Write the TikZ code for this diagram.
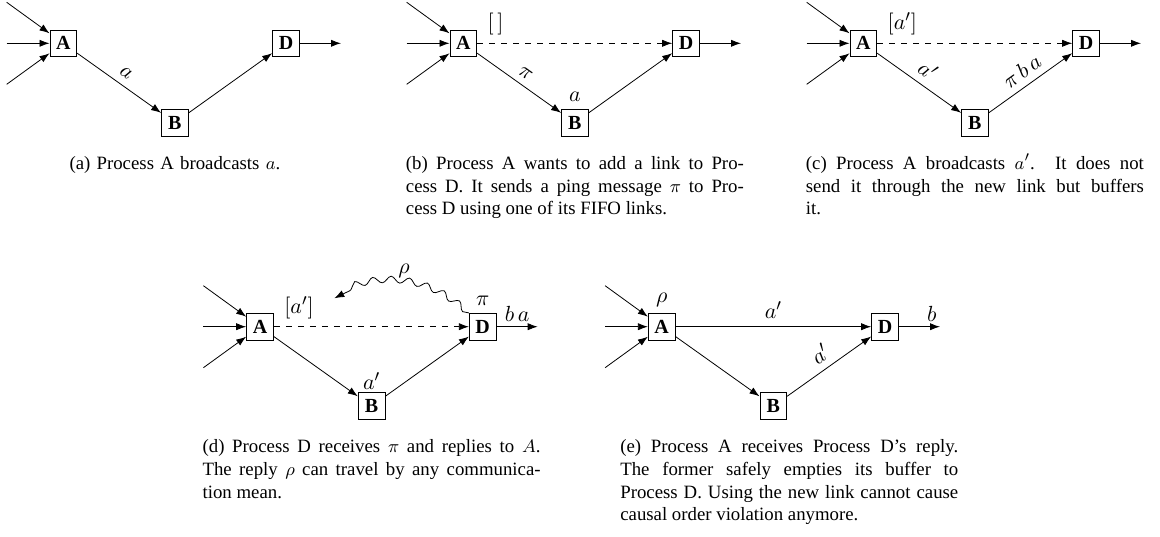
\documentclass[tikz,border=0pt]{standalone}
\usepackage{fontspec}
\setmainfont{Liberation Serif}
\usetikzlibrary{positioning,arrows.meta,decorations.pathmorphing}

\tikzset{
    proc/.style={draw, minimum size=13.4pt, inner sep=0pt, font=\fontsize{10}{12}\selectfont\bfseries},
    lbl/.style={inner sep=1pt, font=\fontsize{11}{13}\selectfont},
    msg/.style={-{Latex[length=5pt,width=3.6pt]}},
    newlink/.style={msg, dashed},
    reply/.style={msg, decorate, decoration={snake, amplitude=1.6pt, segment length=9pt, post length=4pt}},
    subcap/.style={text width=169pt, align=justify, inner sep=0pt,
        font=\fontsize{9.4}{11.3}\selectfont, execute at begin node=\strut},
}

\begin{document}
\begin{tikzpicture}[x=0.5pt, y=-0.5pt, on grid]
    \useasboundingbox (0,0) rectangle (1160,536);

    % (a) broadcast of a
    \node[proc] (A1) at (63.3,43.3) {A};
    \node[proc, below right=39.7pt and 55.8pt of A1] (B1) {B};
    \node[proc, right=111.35pt of A1] (D1) {D};
    \coordinate[above left=20.5pt and 28.3pt of A1] (in1a);
    \coordinate[left=28.3pt of A1] (in1b);
    \coordinate[below left=20.5pt and 28.3pt of A1] (in1c);
    \coordinate[right=27.5pt of D1] (out1);
    \draw[msg] (in1a) -- (A1);
    \draw[msg] (in1b) -- (A1);
    \draw[msg] (in1c) -- (A1);
    \draw[msg] (A1) -- node[lbl, sloped, above=2.5pt] (msgab1) {$a$} (B1);
    \draw[msg] (B1) -- (D1);
    \draw[msg] (D1) -- (out1);
    \node[subcap, align=center, below=15.3pt of B1, anchor=north] (cap1) {(a) Process A broadcasts $a$.};

    % (b) ping over FIFO links
    \node[proc] (A2) at (463.3,43.3) {A};
    \node[proc, below right=39.7pt and 55.8pt of A2] (B2) {B};
    \node[proc, right=111.35pt of A2] (D2) {D};
    \coordinate[above left=20.5pt and 28.3pt of A2] (in2a);
    \coordinate[left=28.3pt of A2] (in2b);
    \coordinate[below left=20.5pt and 28.3pt of A2] (in2c);
    \coordinate[right=27.5pt of D2] (out2);
    \node[lbl, above right=9.65pt and 11pt of A2, anchor=west] (buf2) {$[\,]$};
    \node[lbl, above=12.75pt of B2] (queue2) {$a$};
    \draw[msg] (in2a) -- (A2);
    \draw[msg] (in2b) -- (A2);
    \draw[msg] (in2c) -- (A2);
    \draw[newlink] (A2) -- (D2);
    \draw[msg] (A2) -- node[lbl, sloped, above=2pt] (msgab2) {$\pi$} (B2);
    \draw[msg] (B2) -- (D2);
    \draw[msg] (D2) -- (out2);
    \node[subcap, below=15.3pt of B2, anchor=north] (cap2) {(b) Process A wants to add a link to Pro-\linebreak
        cess D. It sends a ping message $\pi$ to Pro-\linebreak
        cess D using one of its FIFO links.};

    % (c) a' is buffered
    \node[proc] (A3) at (863.3,43.3) {A};
    \node[proc, below right=39.7pt and 55.8pt of A3] (B3) {B};
    \node[proc, right=111.35pt of A3] (D3) {D};
    \coordinate[above left=20.5pt and 28.3pt of A3] (in3a);
    \coordinate[left=28.3pt of A3] (in3b);
    \coordinate[below left=20.5pt and 28.3pt of A3] (in3c);
    \coordinate[right=27.5pt of D3] (out3);
    \node[lbl, above right=9.65pt and 11pt of A3, anchor=west] (buf3) {$[a']$};
    \draw[msg] (in3a) -- (A3);
    \draw[msg] (in3b) -- (A3);
    \draw[msg] (in3c) -- (A3);
    \draw[newlink] (A3) -- (D3);
    \draw[msg] (A3) -- node[lbl, sloped, above=2.5pt] (msgab3) {$a'$} (B3);
    \draw[msg] (B3) -- node[lbl, sloped, above=2.5pt] (msgbd3) {$\pi\,b\,a$} (D3);
    \draw[msg] (D3) -- (out3);
    \node[subcap, below=15.3pt of B3, anchor=north] (cap3) {(c) Process A broadcasts $a'$.  It does not\linebreak
        send it through the new link but buffers\linebreak
        it.};

    % (d) D answers the ping
    \node[proc] (A4) at (260,326.7) {A};
    \node[proc, below right=39.7pt and 55.8pt of A4] (B4) {B};
    \node[proc, right=111.35pt of A4] (D4) {D};
    \coordinate[above left=20.5pt and 28.3pt of A4] (in4a);
    \coordinate[left=28.3pt of A4] (in4b);
    \coordinate[below left=20.5pt and 28.3pt of A4] (in4c);
    \coordinate[right=27.5pt of D4] (out4);
    \coordinate[above left=14.2pt and 74.2pt of D4] (rho4);
    \node[lbl, above right=9.65pt and 11pt of A4, anchor=west] (buf4) {$[a']$};
    \node[lbl, above=12.75pt of B4] (queue4) {$a'$};
    \node[lbl, above=12.75pt of D4] (ping4) {$\pi$};
    \draw[msg] (in4a) -- (A4);
    \draw[msg] (in4b) -- (A4);
    \draw[msg] (in4c) -- (A4);
    \draw[newlink] (A4) -- (D4);
    \draw[msg] (A4) -- (B4);
    \draw[msg] (B4) -- (D4);
    \draw[msg] (D4) -- node[lbl, above=1.5pt] (deliv4) {$b\,a$} (out4);
    \draw[reply] (D4.north west) to[bend right=35] node[lbl, above=1.5pt] (ans4) {$\rho$} (rho4);
    \node[subcap, below=15.3pt of B4, anchor=north] (cap4) {(d) Process D receives $\pi$ and replies to $A$.\linebreak
        The reply $\rho$ can travel by any communica-\linebreak
        tion mean.};

    % (e) buffer flushed through the new link
    \node[proc] (A5) at (661.7,326.7) {A};
    \node[proc, below right=39.7pt and 55.8pt of A5] (B5) {B};
    \node[proc, right=111.65pt of A5] (D5) {D};
    \coordinate[above left=20.5pt and 28.3pt of A5] (in5a);
    \coordinate[left=28.3pt of A5] (in5b);
    \coordinate[below left=20.5pt and 28.3pt of A5] (in5c);
    \coordinate[right=27.5pt of D5] (out5);
    \node[lbl, above=13.5pt of A5] (ans5) {$\rho$};
    \draw[msg] (in5a) -- (A5);
    \draw[msg] (in5b) -- (A5);
    \draw[msg] (in5c) -- (A5);
    \draw[msg] (A5) -- node[lbl, above=3pt] (msgad5) {$a'$} (D5);
    \draw[msg] (A5) -- (B5);
    \draw[msg] (B5) -- node[lbl, sloped, above=2.5pt] (msgbd5) {$a'$} (D5);
    \draw[msg] (D5) -- node[lbl, above=1.5pt, pos=0.8] (deliv5) {$b$} (out5);
    \node[subcap, below=15.3pt of B5, xshift=8pt, anchor=north] (cap5) {(e) Process A receives Process D's reply.\linebreak
        The former safely empties its buffer to\linebreak
        Process D. Using the new link cannot cause\linebreak
        causal order violation anymore.};
\end{tikzpicture}
\end{document}
